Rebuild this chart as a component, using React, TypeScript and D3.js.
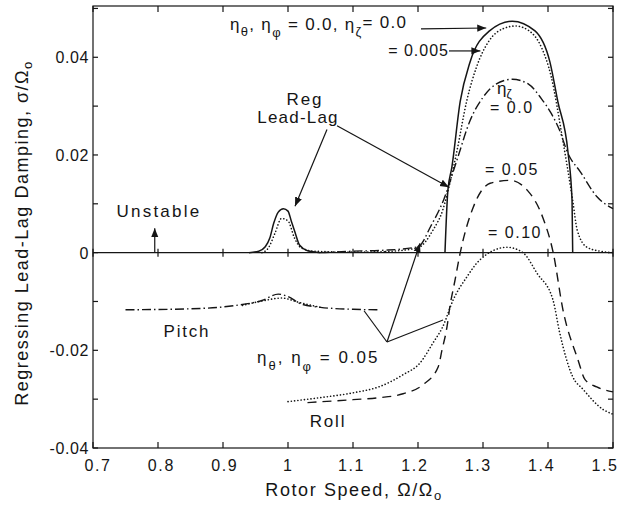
import React from "react";
import * as d3 from "d3";

const W = 623;
const H = 515;
const M = { left: 93, right: 10, top: 6, bottom: 67 };

const xTicks = [0.7, 0.8, 0.9, 1.0, 1.1, 1.2, 1.3, 1.4, 1.5];
const xTickLabels = ["0.7", "0.8", "0.9", "1", "1.1", "1.2", "1.3", "1.4", "1.5"];
const yTicks = [-0.04, -0.02, 0, 0.02, 0.04];
const yTickLabels = ["-0.04", "-0.02", "0", "0.02", "0.04"];
const yMinorTicks = [-0.03, -0.01, 0.01, 0.03, 0.05];

// eta_theta, eta_phi = 0, eta_zeta = 0 (solid)
const solidBump: [number, number][] = [
  [0.94, 0], [0.955, 0.0003], [0.965, 0.0012], [0.972, 0.003], [0.978, 0.006],
  [0.985, 0.0083], [0.993, 0.009], [1.0, 0.0085], [1.005, 0.0065], [1.01, 0.0045],
  [1.018, 0.0015], [1.03, 0.0004], [1.05, 0],
];
const solidMain: [number, number][] = [
  [1.2415, 0], [1.246, 0.0128], [1.252, 0.0174], [1.265, 0.031], [1.28, 0.039],
  [1.31, 0.0454], [1.345, 0.0474], [1.38, 0.0454], [1.403, 0.039], [1.415, 0.031],
  [1.431, 0.0203], [1.437, 0.0107], [1.438, 0],
];
// eta_zeta = 0.005 (dotted)
const dottedBump: [number, number][] = [
  [0.96, 0], [0.97, 0.001], [0.98, 0.004], [0.99, 0.007], [1.0, 0.0065],
  [1.01, 0.003], [1.02, 0.001], [1.04, 0.0003], [1.1, 0.0001], [1.15, 0.0002],
];
const dotted005: [number, number][] = [
  [1.15, 0.0002], [1.2, 0.001], [1.223, 0.0046], [1.238, 0.0087], [1.249, 0.0142],
  [1.26, 0.0209], [1.275, 0.0311], [1.29, 0.038], [1.31, 0.0435], [1.33, 0.0458],
  [1.35, 0.0464], [1.37, 0.0455], [1.39, 0.042], [1.405, 0.036], [1.422, 0.0236],
  [1.438, 0.0107], [1.445, 0.0046], [1.46, 0.0011], [1.48, 0.0003], [1.5, 0],
];
// eta_theta, eta_phi = 0.05, eta_zeta = 0.0 (dash-dot)
const dashDot00: [number, number][] = [
  [1.05, 0], [1.1, 0.0003], [1.15, 0.0005], [1.2, 0.0012], [1.22, 0.0055],
  [1.24, 0.011], [1.26, 0.019], [1.28, 0.027], [1.3, 0.0318], [1.32, 0.0345],
  [1.345, 0.0355], [1.37, 0.0345], [1.39, 0.0315], [1.405, 0.0285], [1.418, 0.025],
  [1.43, 0.0205], [1.45, 0.0165], [1.475, 0.0115], [1.5, 0.009],
];
// eta_zeta = 0.05 (dashed, roll)
const dashed005: [number, number][] = [
  [1.03, -0.0307], [1.1, -0.0301], [1.14, -0.0297], [1.177, -0.0289], [1.208, -0.027],
  [1.231, -0.0234], [1.237, -0.0199], [1.2446, -0.0152], [1.249, -0.0111], [1.257, -0.0056],
  [1.265, 0], [1.285, 0.0093], [1.311, 0.0142], [1.3415, 0.0148], [1.368, 0.0128],
  [1.392, 0.0072], [1.408, 0], [1.423, -0.0117], [1.446, -0.0219], [1.457, -0.026],
  [1.475, -0.0275], [1.5, -0.0285],
];
// eta_zeta = 0.10 (dotted, roll)
const dotted010: [number, number][] = [
  [1.0, -0.0305], [1.049, -0.0297], [1.1, -0.0287], [1.1415, -0.0274], [1.177, -0.025],
  [1.203, -0.0226], [1.223, -0.0185], [1.238, -0.0152], [1.254, -0.0097], [1.275, -0.005],
  [1.295, -0.0015], [1.337, 0.0011], [1.3615, 0], [1.383, -0.0042], [1.4077, -0.0097],
  [1.418, -0.0164], [1.438, -0.0254], [1.454, -0.028], [1.4846, -0.0321], [1.4985, -0.033],
];
// Pitch (dash-dot) with small dotted bump
const pitchDashDot: [number, number][] = [
  [0.75, -0.0117], [0.85, -0.0115], [0.92, -0.0108], [0.96, -0.0098], [0.985, -0.0085],
  [1.0, -0.009], [1.02, -0.0105], [1.05, -0.0112], [1.1, -0.0116], [1.14, -0.0117],
];
const pitchDotted: [number, number][] = [
  [0.93, -0.0108], [0.96, -0.0099], [0.99, -0.0093], [1.02, -0.0103], [1.05, -0.0112],
];

const FONT = "'Liberation Sans', Arial, Helvetica, sans-serif";
const INK = "#151515";

export default function App() {
  const x = d3.scaleLinear().domain([0.7, 1.5]).range([M.left, W - M.right]);
  const y = d3.scaleLinear().domain([-0.04, 0.0505]).range([H - M.bottom, M.top]);
  // tick labels were set slightly offset from the ticks in the original
  const xLab = d3.scaleLinear().domain([0.7, 1.5]).range([M.left + 5, W - M.right - 8]);
  const line = d3
    .line<[number, number]>()
    .x((d) => x(d[0]))
    .y((d) => y(d[1]))
    .curve(d3.curveMonotoneX);

  const x0 = x(0.7), x1 = x(1.5), yb = y(-0.04), yt = y(0.0505), yz = y(0);
  const allY = [...yTicks, ...yMinorTicks];

  const solid = { stroke: INK, strokeWidth: 1.5, fill: "none" };
  const dotted = { stroke: INK, strokeWidth: 1.6, fill: "none", strokeDasharray: "0.1 3.2", strokeLinecap: "round" as const };
  const dashdot = { stroke: INK, strokeWidth: 1.4, fill: "none", strokeDasharray: "9 3 1.5 3" };
  const dashed = { stroke: INK, strokeWidth: 1.4, fill: "none", strokeDasharray: "9 6" };

  const t = { fontFamily: FONT, fill: INK };
  const big = { ...t, fontSize: 17, letterSpacing: 1.8 };
  const mid = { ...t, fontSize: 16, letterSpacing: 1.5 };

  return (
    <svg width={W} height={H} style={{ display: "block", position: "absolute", left: 0, top: 0, background: "#fff" }}>
      <defs>
        <marker id="arr" viewBox="0 0 10 10" refX="10" refY="5" markerWidth="9" markerHeight="9" markerUnits="userSpaceOnUse" orient="auto">
          <path d="M0,1 L10,5 L0,9 Z" fill={INK} />
        </marker>
      </defs>
      <rect x={0} y={0} width={W} height={H} fill="#fff" />

      {/* frame */}
      <rect x={x0} y={yt} width={x1 - x0} height={yb - yt} fill="none" stroke={INK} strokeWidth={1.2} />
      {/* zero line */}
      <line x1={x0} x2={x1} y1={yz} y2={yz} stroke={INK} strokeWidth={1.2} />

      {/* x ticks */}
      {xTicks.map((v, i) => (
        <g key={"xt" + i}>
          <line x1={x(v)} x2={x(v)} y1={yb} y2={yb - 6} stroke={INK} strokeWidth={1.2} />
          <line x1={x(v)} x2={x(v)} y1={yt} y2={yt + 6} stroke={INK} strokeWidth={1.2} />
          <line x1={x(v)} x2={x(v)} y1={yz - 4} y2={yz + 4} stroke={INK} strokeWidth={1.2} />
          <text x={xLab(v)} y={yb + 23} textAnchor="middle" fontSize={16} letterSpacing={1.6} {...t}>
            {xTickLabels[i]}
          </text>
        </g>
      ))}
      {/* y ticks */}
      {allY.map((v, i) => (
        <g key={"yt" + i}>
          <line x1={x0} x2={x0 + 5} y1={y(v)} y2={y(v)} stroke={INK} strokeWidth={1.2} />
          <line x1={x1} x2={x1 - 5} y1={y(v)} y2={y(v)} stroke={INK} strokeWidth={1.2} />
        </g>
      ))}
      {yTicks.map((v, i) => (
        <text key={"yl" + i} x={x0 - 4} y={y(v) + 6} textAnchor="end" fontSize={16} letterSpacing={0.6} {...t}>
          {yTickLabels[i]}
        </text>
      ))}

      {/* axis titles */}
      <text x={354} y={H - 19} textAnchor="middle" fontSize={18} letterSpacing={1.6} {...t}>
        Rotor Speed, Ω/Ω<tspan dy={4} fontSize={13}>o</tspan>
      </text>
      <text transform={`translate(28,${(yt + yb) / 2 + 6}) rotate(-90)`} textAnchor="middle" fontSize={18} letterSpacing={1.5} {...t}>
        Regressing Lead-Lag Damping, σ/Ω<tspan dy={4} fontSize={13}>o</tspan>
      </text>

      {/* curves */}
      <path d={line(solidBump) || ""} {...solid} />
      <path d={line(solidMain) || ""} {...solid} />
      <path d={line(dottedBump) || ""} {...dotted} />
      <path d={line(dotted005) || ""} {...dotted} />
      <path d={line(dashDot00) || ""} {...dashdot} />
      <path d={line(dashed005) || ""} {...dashed} />
      <path d={line(dotted010) || ""} {...dotted} />
      <path d={line(pitchDashDot) || ""} {...dashdot} />
      <path d={line(pitchDotted) || ""} {...dotted} />

      {/* annotations */}
      <text x={x(0.9108)} y={y(0.0455)} {...big} letterSpacing={1.3}>
        η<tspan dy={6} fontSize={13}>θ</tspan>
        <tspan dy={-6}>, η</tspan>
        <tspan dy={7} fontSize={13}>φ</tspan>
        <tspan dy={-7}> = 0.0, η</tspan>
        <tspan dy={6} fontSize={13}>ζ</tspan>
        <tspan dy={-8}>= 0.0</tspan>
      </text>
      <line x1={x(1.2046)} y1={y(0.0458)} x2={x(1.305)} y2={y(0.046)} stroke={INK} strokeWidth={1.2} markerEnd="url(#arr)" />
      <text x={x(1.2477)} y={y(0.0403)} textAnchor="end" {...mid} letterSpacing={1}>= 0.005</text>
      <line x1={x(1.2477)} y1={y(0.0413)} x2={x(1.296)} y2={y(0.0413)} stroke={INK} strokeWidth={1.2} markerEnd="url(#arr)" />

      <text x={x(1.026)} y={y(0.0303)} textAnchor="middle" {...big}>Reg</text>
      <text x={x(1.0154)} y={y(0.0266)} textAnchor="middle" {...big} letterSpacing={1.2}>Lead-Lag</text>
      <line x1={x(1.06)} y1={y(0.0252)} x2={x(1.0108)} y2={y(0.0095)} stroke={INK} strokeWidth={1.2} markerEnd="url(#arr)" />
      <line x1={x(1.0754)} y1={y(0.026)} x2={x(1.2477)} y2={y(0.0134)} stroke={INK} strokeWidth={1.2} markerEnd="url(#arr)" />

      <text x={x(0.8015)} y={y(0.0072)} textAnchor="middle" {...big} letterSpacing={2.2}>Unstable</text>
      <line x1={x(0.795)} y1={y(0)} x2={x(0.795)} y2={y(0.005)} stroke={INK} strokeWidth={1.2} markerEnd="url(#arr)" />

      <text x={x(1.3215)} y={y(0.0325)} fontSize={17} {...t}>
        η<tspan dy={4} fontSize={12}>ζ</tspan>
      </text>
      <text x={x(1.3108)} y={y(0.0285)} {...mid}>= 0.0</text>
      <text x={x(1.303)} y={y(0.0158)} {...mid}>= 0.05</text>
      <text x={x(1.3077)} y={y(0.003)} {...mid}>= 0.10</text>

      <text x={x(0.8446)} y={y(-0.0172)} textAnchor="middle" {...big}>Pitch</text>
      <text x={x(1.0615)} y={y(-0.0358)} textAnchor="middle" {...big}>Roll</text>

      <text x={x(0.9523)} y={y(-0.0226)} {...big} letterSpacing={2}>
        η<tspan dy={7} fontSize={13}>θ</tspan>
        <tspan dy={-7}>, η</tspan>
        <tspan dy={8} fontSize={13}>φ</tspan>
        <tspan dy={-8}> = 0.05</tspan>
      </text>
      <line x1={x(1.1523)} y1={y(-0.0183)} x2={x(1.117)} y2={y(-0.0119)} stroke={INK} strokeWidth={1.2} />
      <line x1={x(1.1523)} y1={y(-0.0183)} x2={x(1.203)} y2={y(0.0019)} stroke={INK} strokeWidth={1.2} markerEnd="url(#arr)" />
      <line x1={x(1.1523)} y1={y(-0.0183)} x2={x(1.2385)} y2={y(-0.0138)} stroke={INK} strokeWidth={1.2} />
    </svg>
  );
}
